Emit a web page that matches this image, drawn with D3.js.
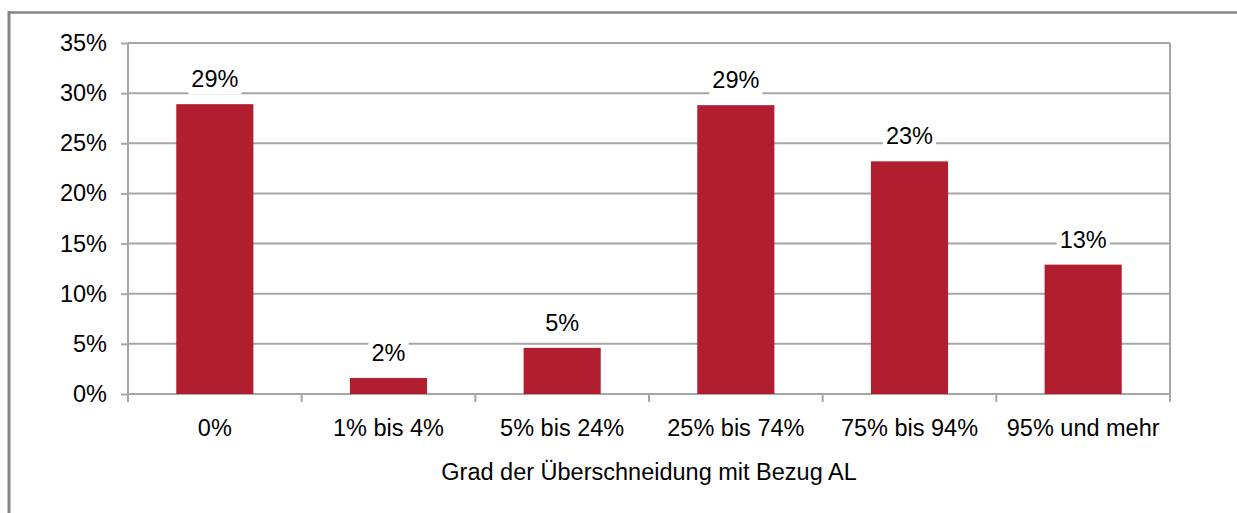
<!DOCTYPE html>
<html>
<head>
<meta charset="utf-8">
<script src="https://cdn.jsdelivr.net/npm/d3@7/dist/d3.min.js"></script>
<style>
  html, body { margin: 0; padding: 0; background: #fff; }
  svg { display: block; }
  text { font-family: "Liberation Sans", Arial, sans-serif; fill: #000; }
</style>
</head>
<body>
<svg id="chart" width="1237" height="513"></svg>
<script>
const categories = ["0%", "1% bis 4%", "5% bis 24%", "25% bis 74%", "75% bis 94%", "95% und mehr"];
const values = [28.9, 1.6, 4.6, 28.8, 23.2, 12.9];
const valueLabels = ["29%", "2%", "5%", "29%", "23%", "13%"];
const yTicks = [0, 5, 10, 15, 20, 25, 30, 35];
const xTitle = "Grad der Überschneidung mit Bezug AL";

(function () {
const W = 1237, H = 513;
const pl = 128, pr = 1170, pt = 43, pb = 394;
const fontSize = 23.5;
const gridColor = "#a6a6a6";
const barColor = "#B01E2F";

const svg = d3.select("#chart");

// outer frame (top + left visible)
svg.append("line").attr("x1", 8).attr("x2", W).attr("y1", 12.5).attr("y2", 12.5)
  .attr("stroke", "#858585").attr("stroke-width", 2.5);
svg.append("line").attr("x1", 9).attr("x2", 9).attr("y1", 11).attr("y2", H)
  .attr("stroke", "#858585").attr("stroke-width", 3);

const y = d3.scaleLinear().domain([0, 35]).range([pb, pt]);
const x = d3.scaleBand().domain(categories).range([pl, pr]).padding(0);
const barFrac = 0.444;

// gridlines
svg.append("g").selectAll("line").data(yTicks).join("line")
  .attr("x1", pl).attr("x2", pr)
  .attr("y1", d => y(d)).attr("y2", d => y(d))
  .attr("stroke", gridColor).attr("stroke-width", 2);

// right border of plot
svg.append("line").attr("x1", pr).attr("x2", pr).attr("y1", pt).attr("y2", pb + 8)
  .attr("stroke", gridColor).attr("stroke-width", 2);

// x boundary ticks
const bounds = categories.map(c => x(c)).concat([pr]);
svg.append("g").selectAll("line").data(bounds).join("line")
  .attr("x1", d => d).attr("x2", d => d)
  .attr("y1", pb).attr("y2", pb + 8)
  .attr("stroke", gridColor).attr("stroke-width", 2);

// y axis
const yAxis = svg.append("g").attr("transform", `translate(${pl},0)`)
  .call(d3.axisLeft(y).tickValues(yTicks).tickSize(7).tickPadding(14).tickFormat(d => d + "%"));
yAxis.select(".domain").remove();
yAxis.selectAll(".tick line").attr("stroke", gridColor).attr("stroke-width", 2);
yAxis.selectAll("text").attr("font-size", fontSize).attr("font-family", "Liberation Sans, Arial, sans-serif").attr("fill", "#000");
svg.append("line").attr("x1", pl).attr("x2", pl).attr("y1", pt).attr("y2", pb + 8)
  .attr("stroke", gridColor).attr("stroke-width", 2);

// bars
svg.append("g").selectAll("rect").data(values).join("rect")
  .attr("x", (d, i) => x(categories[i]) + x.bandwidth() * (1 - barFrac) / 2)
  .attr("width", x.bandwidth() * barFrac)
  .attr("y", d => y(d))
  .attr("height", d => y(0) - y(d))
  .attr("fill", barColor);

// value labels with white background boxes
const lab = svg.append("g").selectAll("g").data(values).join("g")
  .attr("transform", (d, i) => `translate(${x(categories[i]) + x.bandwidth() / 2},${y(d) - 17})`);
lab.each(function(d, i) {
  const g = d3.select(this);
  const t = g.append("text").attr("text-anchor", "middle").attr("font-size", fontSize).text(valueLabels[i]);
  const bb = t.node().getBBox();
  g.insert("rect", "text").attr("x", bb.x - 3).attr("y", bb.y).attr("width", bb.width + 6).attr("height", bb.height + 2)
    .attr("fill", "#fff");
});

// x category labels
const xAxis = svg.append("g").attr("transform", `translate(0,${pb})`)
  .call(d3.axisBottom(x).tickSize(0).tickPadding(25));
xAxis.select(".domain").remove();
xAxis.selectAll("text").attr("font-size", fontSize).attr("font-family", "Liberation Sans, Arial, sans-serif").attr("fill", "#000");

// x title
svg.append("text").attr("x", (pl + pr) / 2).attr("y", 480)
  .attr("text-anchor", "middle").attr("font-size", fontSize).text(xTitle);
})();
</script>
</body>
</html>
